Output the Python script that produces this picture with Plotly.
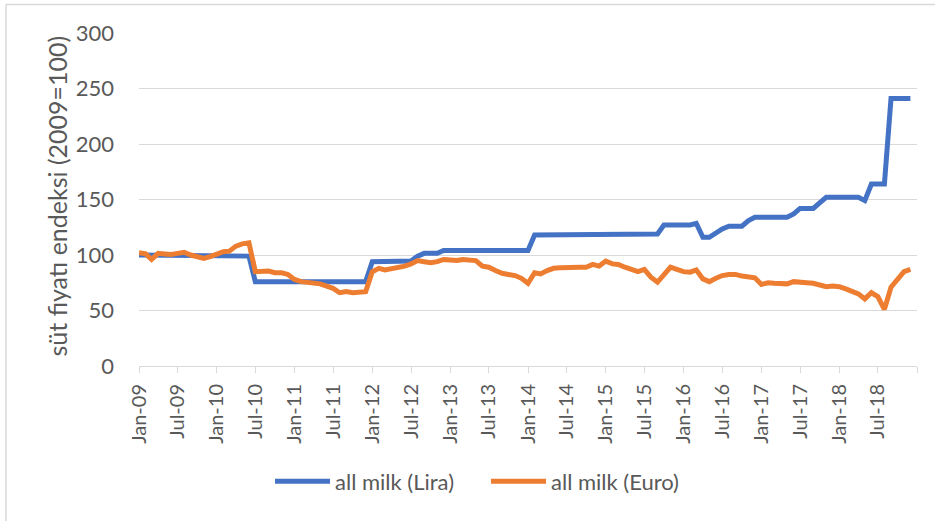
import plotly.graph_objects as go
import pandas as pd

# ---- data ----
months = pd.date_range("2009-01-01", periods=120, freq="MS")

lira = [
    100, 100, 100, 100, 100, 100, 100, 100, 100, 100, 100, 100,   # 2009
    99, 99, 99, 99, 99, 99, 76, 76, 76, 76, 76, 76,               # 2010
    76, 76, 76, 76, 76, 76, 76, 76, 76, 76, 76, 76,               # 2011
    94, 94, 94, 94, 94, 94, 94.5, 99, 101.5, 101.5, 101.5, 104,   # 2012
    104, 104, 104, 104, 104, 104, 104, 104, 104, 104, 104, 104,   # 2013
    104, 118, 118, 118, 118, 118, 118, 118, 118, 118, 118, 118,   # 2014
    118, 118, 119, 119, 119, 119, 119, 119, 119, 127, 127, 127,   # 2015
    127, 127, 128.5, 116, 116, 120.5, 123.5, 126, 126, 126, 131, 134,  # 2016
    134, 134, 134, 134, 134, 137, 142, 142, 142, 147, 152, 152,   # 2017
    152, 152, 152, 152, 149, 164, 164, 164, 241, 241, 241, 241,   # 2018
]

euro = [
    102, 101, 96, 101.5, 101, 100.5, 101.5, 102.5, 100, 99, 97, 98.5,
    101, 103, 103.5, 108, 110, 111, 85, 85.5, 85.5, 84, 84, 82.5,
    78, 76, 75.5, 75, 74, 72, 70, 66, 67, 66, 67, 67,
    85, 88, 86.5, 87.5, 88.5, 90, 92, 95, 94, 93, 94, 96,
    95.5, 95, 96, 96, 95, 90, 89, 86, 83.5, 82.5, 81.5, 79,
    74.5, 84, 83, 86, 88, 88.5, 89, 88.5, 89, 89, 91.5, 90,
    94.5, 92, 91.5, 89, 87, 85, 87, 80, 75.5, 83, 89, 87,
    85, 84.5, 86.5, 78.5, 76, 79, 81.5, 82.5, 82.5, 81, 80, 79.5,
    73.5, 75, 74.5, 74, 74, 76, 75, 75, 74.5, 73, 71.5, 72,
    71.5, 69.5, 67, 65, 60.5, 66, 62.5, 51, 71, 78, 85, 87,
]

series_names = ["all milk (Lira)", "all milk (Euro)"]

tick_dates = list(pd.date_range("2009-01-01", "2019-01-01", freq="6MS"))
tick_labels = [d.strftime("%b-%y") for d in tick_dates[:-1]] + [""]

y_title = "süt fiyatı endeksi (2009=100)"

# ---- figure ----
FONT = "Lato"
GRAY = "#595959"
GRID = "#d9d9d9"

fig = go.Figure()
fig.add_trace(go.Scatter(x=months, y=lira, mode="lines", name=series_names[0],
                         line=dict(color="#4472C4", width=5)))
fig.add_trace(go.Scatter(x=months, y=euro, mode="lines", name=series_names[1],
                         line=dict(color="#ED7D31", width=5)))

fig.update_layout(
    width=935, height=521,
    margin=dict(l=139, r=18, t=33, b=155),
    paper_bgcolor="white", plot_bgcolor="white",
    font=dict(family=FONT, size=21, color=GRAY),
    showlegend=True,
    legend=dict(orientation="h", x=0.1684, xanchor="left", y=-0.347, yanchor="middle",
                font=dict(size=22, color=GRAY), itemwidth=55,
                entrywidth=146, entrywidthmode="pixels",
                bgcolor="rgba(0,0,0,0)"),
    xaxis=dict(
        automargin=False,
        range=[tick_dates[0], tick_dates[-1]],
        tickmode="array", tickvals=tick_dates, ticktext=tick_labels,
        tickangle=-90, ticks="outside", ticklen=6, tickcolor=GRID,
        showline=True, linecolor=GRID, linewidth=1,
        showgrid=False, zeroline=False,
        ticklabelstandoff=3,
        tickfont=dict(size=20, color=GRAY),
    ),
    yaxis=dict(
        automargin=False,
        range=[0, 300], dtick=50, tick0=0,
        showgrid=True, gridcolor=GRID, gridwidth=1,
        zeroline=False, showline=False, ticks="",
        ticklabelstandoff=24,
        tickfont=dict(size=22, color=GRAY),
    ),
    annotations=[
        dict(text=y_title, xref="paper", yref="paper", x=-0.105, y=0.51,
             xanchor="center", yanchor="middle", textangle=-90, showarrow=False,
             font=dict(size=25, color=GRAY)),
    ],
    shapes=[
        dict(type="line", xref="paper", yref="paper", x0=-0.171, x1=1.03, y0=1.0856, y1=1.0856,
             line=dict(color=GRID, width=1.5)),
        dict(type="line", xref="paper", yref="paper", x0=-0.171, x1=-0.171, y0=1.0856, y1=-0.5,
             line=dict(color=GRID, width=1.5)),
    ],
)

fig.write_html("out.html", config={"displayModeBar": False},
               post_script="document.body.style.margin='0';document.body.style.padding='0';")
